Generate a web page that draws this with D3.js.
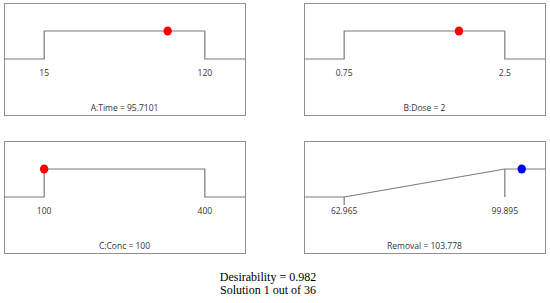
<!DOCTYPE html>
<html>
<head>
<meta charset="utf-8">
<script src="https://cdn.jsdelivr.net/npm/d3@7"></script>
<style>
  body { margin: 0; background: #fff; }
  svg text { font-family: "Open Sans", sans-serif; }
</style>
</head>
<body>
<div id="chart"></div>
<script>
// Ramp data (one panel per factor / response)
const names = ["A:Time", "B:Dose", "C:Conc", "Removal"];
const lows = [15, 0.75, 100, 62.965];
const highs = [120, 2.5, 400, 99.895];
const values = [95.7101, 2, 100, 103.778];
const lowLabels = ["15", "0.75", "100", "62.965"];
const highLabels = ["120", "2.5", "400", "99.895"];
const valueLabels = ["95.7101", "2", "100", "103.778"];
const kinds = ["range", "range", "range", "maximize"];
const dotColors = ["#ff0000", "#ff0000", "#ff0000", "#0000ff"];
const summary = ["Desirability = 0.982", "Solution 1 out of 36"];

const width = 550;
const height = 303;

const svg = d3.select("#chart")
    .append("svg")
    .attr("width", width)
    .attr("height", height);

// panel positions
const panelW = 241, panelH = 112;
const panelX = [4, 304, 4, 304];
const panelY = [3, 3, 141, 141];

names.forEach((name, i) => {
    const g = svg.append("g")
        .attr("transform", `translate(${panelX[i]},${panelY[i]})`);

    const span = highs[i] - lows[i];
    const x = d3.scaleLinear()
        .domain([lows[i] - span * 0.25, highs[i] + span * 0.25])
        .range([0, panelW]);
    // desirability 0..1
    const y = d3.scaleLinear()
        .domain([0, 1])
        .range([panelH * 0.5, panelH * 0.25]);

    g.append("rect")
        .attr("x", 0.5).attr("y", 0.5)
        .attr("width", panelW).attr("height", panelH)
        .attr("fill", "none")
        .attr("stroke", "#8f8f8f")
        .attr("stroke-width", 1);

    const d0 = x.domain()[0], d1 = x.domain()[1];
    let pts;
    if (kinds[i] === "range") {
        pts = [[d0, 0], [lows[i], 0], [lows[i], 1], [highs[i], 1], [highs[i], 0], [d1, 0]];
    } else {
        pts = [[d0, 0], [lows[i], 0], [highs[i], 1], [d1, 1]];
    }
    const line = d3.line().x(d => x(d[0])).y(d => y(d[1]));
    g.append("path")
        .attr("d", line(pts))
        .attr("fill", "none")
        .attr("stroke", "#7a7a7a")
        .attr("stroke-width", 1.2);

    if (kinds[i] === "maximize") {
        // small tick at low, drop line at high
        g.append("line")
            .attr("x1", x(lows[i])).attr("x2", x(lows[i]))
            .attr("y1", y(0)).attr("y2", y(0) + 8)
            .attr("stroke", "#7a7a7a").attr("stroke-width", 1.2);
        g.append("line")
            .attr("x1", x(highs[i])).attr("x2", x(highs[i]))
            .attr("y1", y(1)).attr("y2", y(0))
            .attr("stroke", "#7a7a7a").attr("stroke-width", 1.2);
    }

    g.selectAll(".tick-label")
        .data([[lows[i], lowLabels[i]], [highs[i], highLabels[i]]])
        .enter()
        .append("text")
        .attr("x", d => x(d[0]))
        .attr("y", panelH * 0.625)
        .attr("dy", "0.35em")
        .attr("text-anchor", "middle")
        .attr("font-size", "8.5px")
        .attr("fill", "#333")
        .text(d => d[1]);

    g.append("text")
        .attr("x", panelW / 2)
        .attr("y", panelH - 7)
        .attr("dy", "0.35em")
        .attr("text-anchor", "middle")
        .attr("font-size", "8.5px")
        .attr("fill", "#333")
        .text(`${name} = ${valueLabels[i]}`);

    // current setting
    const v = values[i];
    let dv;
    if (kinds[i] === "range") dv = (v >= lows[i] && v <= highs[i]) ? 1 : 0;
    else dv = Math.max(0, Math.min(1, (v - lows[i]) / span));
    g.append("ellipse")
        .attr("cx", x(v))
        .attr("cy", y(dv))
        .attr("rx", 4.2).attr("ry", 4.5)
        .attr("fill", dotColors[i]);
});

svg.selectAll(".summary")
    .data(summary)
    .enter()
    .append("text")
    .attr("x", 268)
    .attr("y", (d, i) => 281 + i * 12.5)
    .attr("text-anchor", "middle")
    .style("font-family", "'Liberation Serif', 'Times New Roman', serif")
    .attr("font-size", "12px")
    .attr("fill", "#000")
    .text(d => d);
</script>
</body>
</html>
